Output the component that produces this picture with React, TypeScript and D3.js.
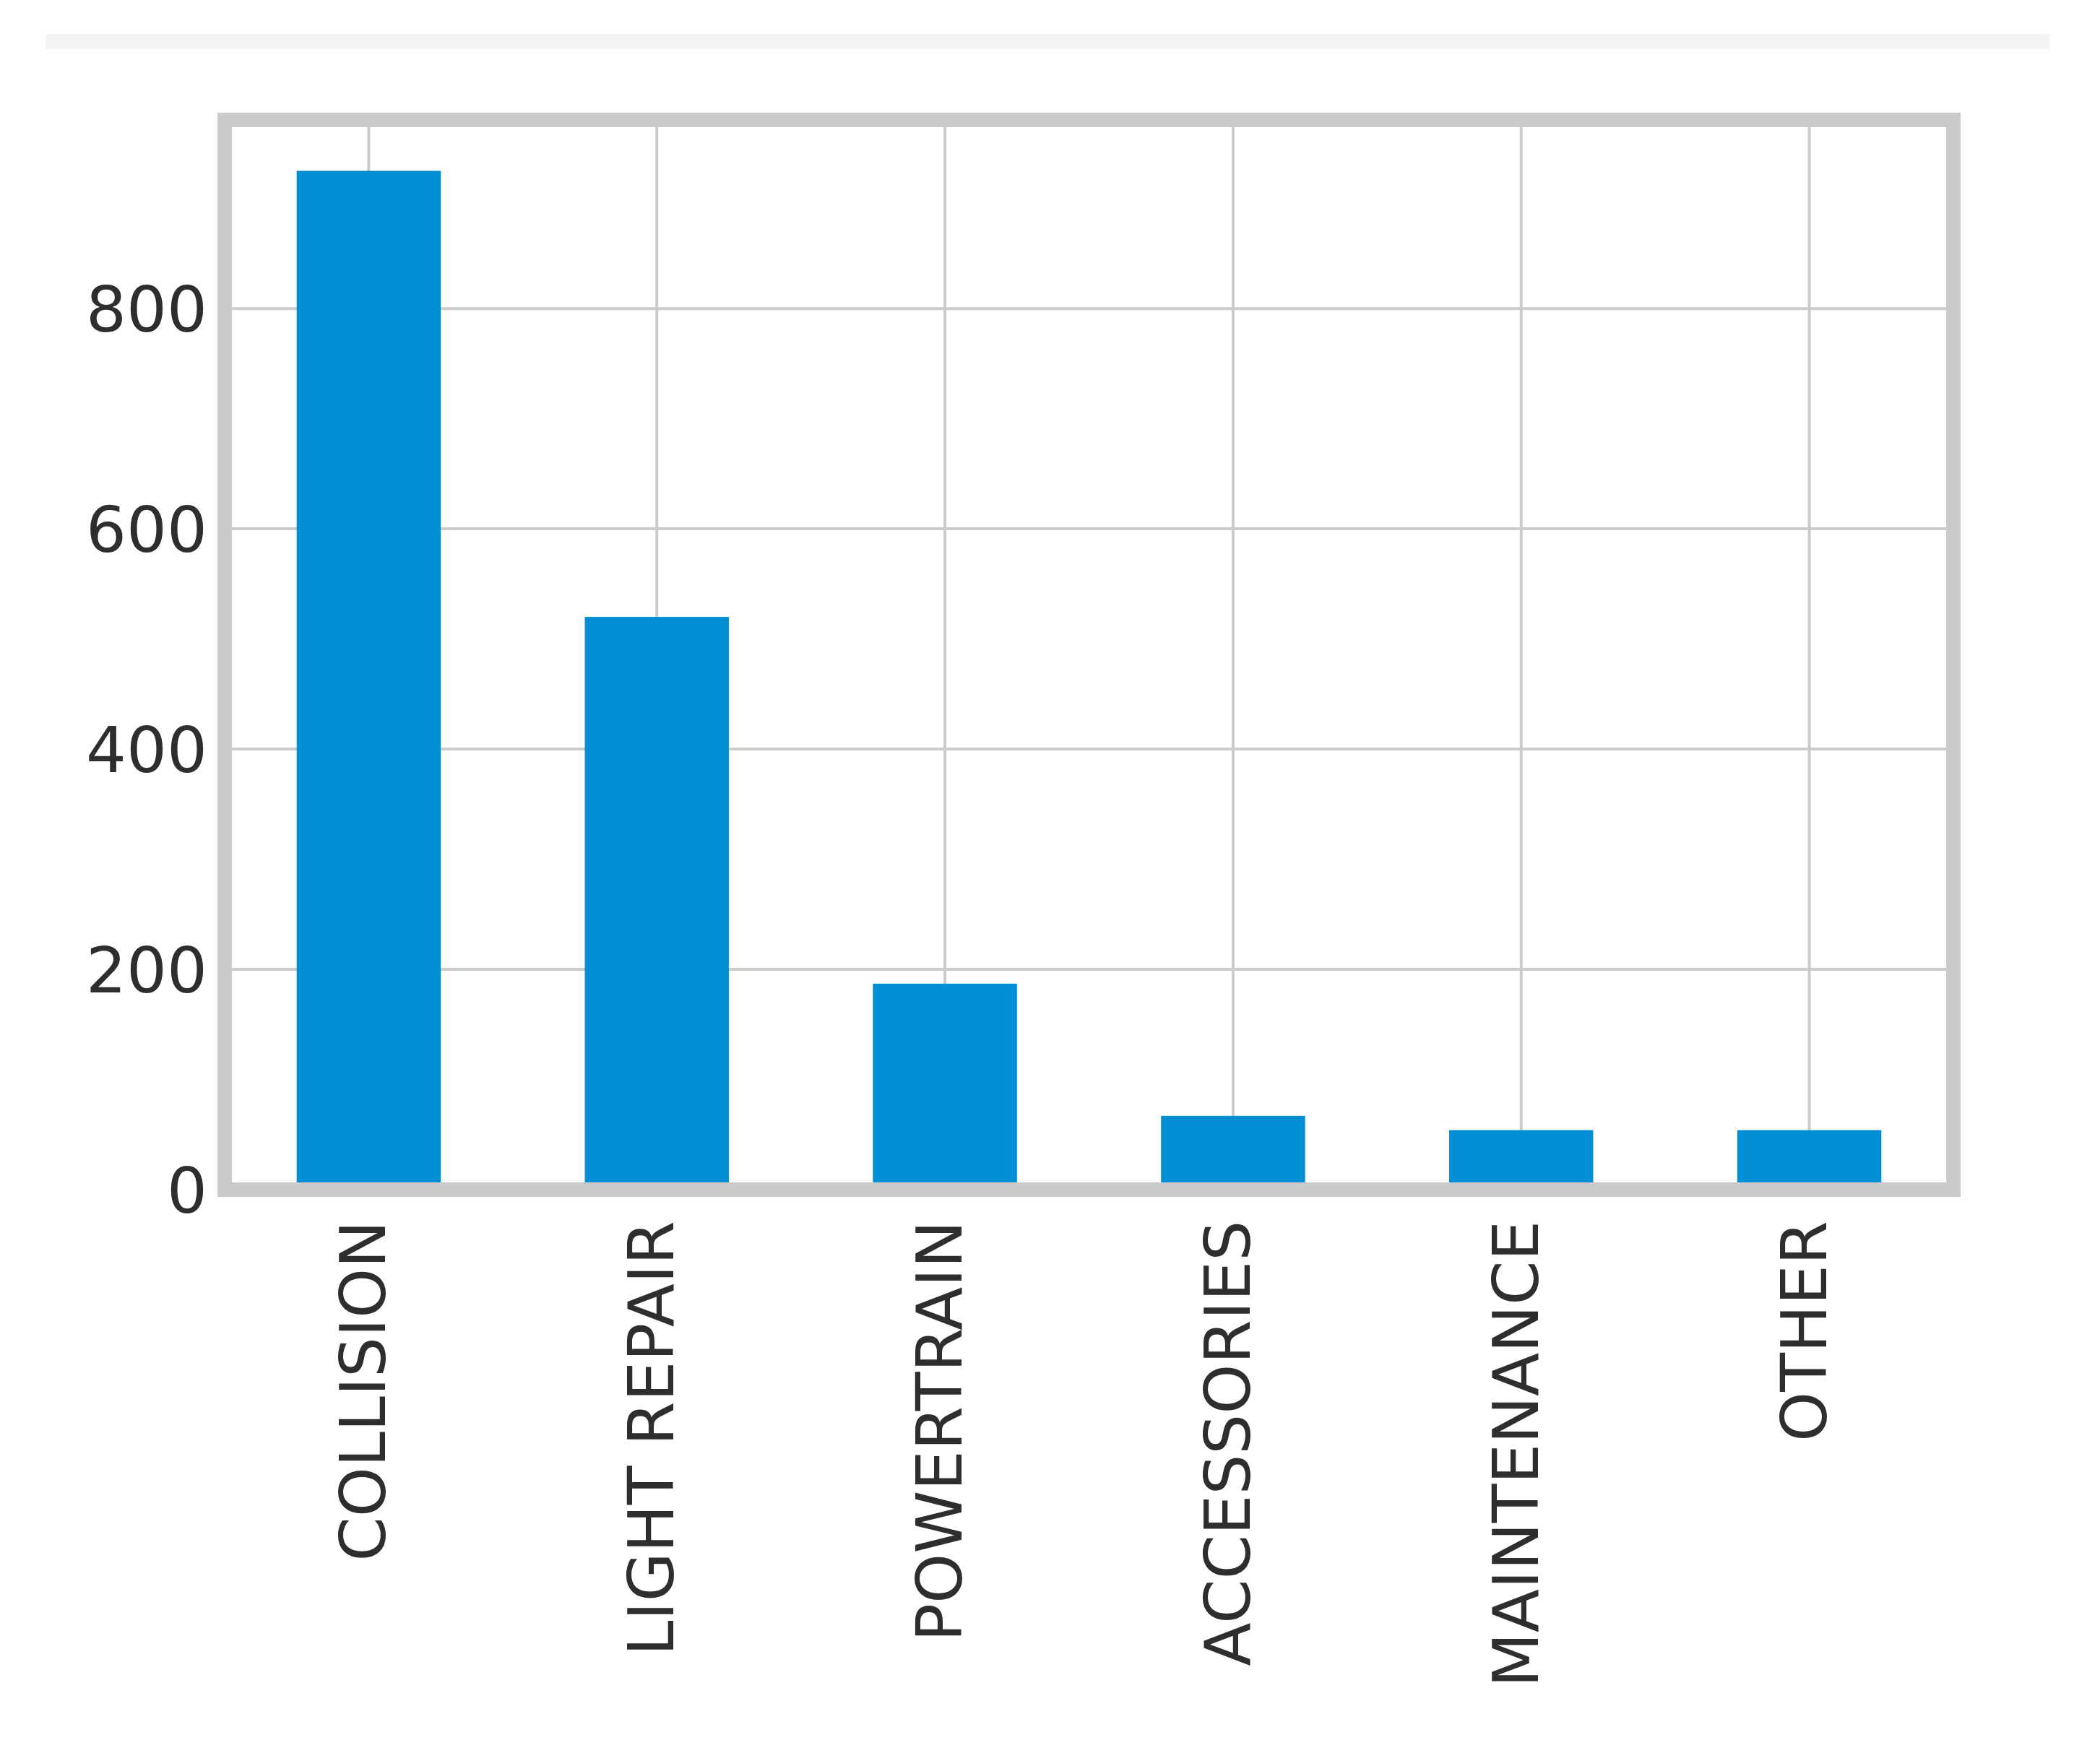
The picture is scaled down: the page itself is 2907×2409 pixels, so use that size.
import { useEffect, useRef } from 'react'
import * as d3 from 'd3'

const CHART_DIMENTIONS = ({
    width: 2907,
    height: 2409,
    left: 311,
    right: 2704,
    top: 166,
    bottom: 1647,
})

const categories = ['COLLISION', 'LIGHT REPAIR', 'POWERTRAIN', 'ACCESSORIES', 'MAINTENANCE', 'OTHER']
const counts = [925, 520, 187, 67, 54, 54]
const yTicks = [0, 200, 400, 600, 800]

export default function App(){

    const svgRef = useRef<SVGSVGElement|null>(null)

    useEffect(()=>{
        document.body.style.margin = '0'
        const svg = d3.select(svgRef.current)
            .attr('width', CHART_DIMENTIONS.width)
            .attr('height', CHART_DIMENTIONS.height)
        svg.selectAll('*').remove()

        svg.append('rect')
            .attr('width', CHART_DIMENTIONS.width)
            .attr('height', CHART_DIMENTIONS.height)
            .attr('fill', '#ffffff')

        // the grey strip from the notebook cell above the chart
        svg.append('rect')
            .attr('x', 63)
            .attr('y', 47)
            .attr('width', 2837 - 63)
            .attr('height', 21)
            .attr('fill', '#f3f3f3')

        const x = d3.scaleBand()
            .domain(categories)
            .range([CHART_DIMENTIONS.left, CHART_DIMENTIONS.right])
            .paddingInner(0.5)
            .paddingOuter(0.25)
        const yMax = d3.max(counts)! * 1.05
        const y = d3.scaleLinear()
            .domain([0, yMax])
            .range([CHART_DIMENTIONS.bottom, CHART_DIMENTIONS.top])

        const grid = svg.append('g')
        grid.selectAll('.hgrid')
            .data(yTicks)
            .enter()
            .append('line')
            .attr('x1', CHART_DIMENTIONS.left)
            .attr('x2', CHART_DIMENTIONS.right)
            .attr('y1', (d:any) => y(d))
            .attr('y2', (d:any) => y(d))
            .attr('stroke', '#cbcbcb')
            .attr('stroke-width', 4)
        grid.selectAll('.vgrid')
            .data(categories)
            .enter()
            .append('line')
            .attr('x1', (d:any) => x(d)! + x.bandwidth() / 2)
            .attr('x2', (d:any) => x(d)! + x.bandwidth() / 2)
            .attr('y1', CHART_DIMENTIONS.top)
            .attr('y2', CHART_DIMENTIONS.bottom)
            .attr('stroke', '#cbcbcb')
            .attr('stroke-width', 4)

        svg.selectAll('.bar')
            .data(counts)
            .enter()
            .append('rect')
            .attr('x', (d:any, i:any) => x(categories[i])!)
            .attr('width', x.bandwidth())
            .attr('y', (d:any) => y(d))
            .attr('height', (d:any) => y(0) - y(d))
            .attr('fill', '#008fd5')

        /* axes frame */
        svg.append('rect')
            .attr('x', CHART_DIMENTIONS.left)
            .attr('y', CHART_DIMENTIONS.top)
            .attr('width', CHART_DIMENTIONS.right - CHART_DIMENTIONS.left)
            .attr('height', CHART_DIMENTIONS.bottom - CHART_DIMENTIONS.top)
            .attr('fill', 'none')
            .attr('stroke', '#cbcbcb')
            .attr('stroke-width', 20)

        svg.selectAll('.ylab')
            .data(yTicks)
            .enter()
            .append('text')
            .attr('x', 287)
            .attr('y', (d:any) => y(d))
            .attr('dy', '0.36em')
            .attr('text-anchor', 'end')
            .attr('font-family', 'DejaVu Sans')
            .attr('font-size', '88px')
            .attr('fill', '#2e2e2e')
            .text((d:any) => d)

        svg.selectAll('.xlab')
            .data(categories)
            .enter()
            .append('text')
            .attr('transform', (d:any) => `translate(${x(d)! + x.bandwidth() / 2 + 23}, 1690) rotate(-90)`)
            .attr('text-anchor', 'end')
            .attr('font-family', 'DejaVu Sans')
            .attr('font-size', '88px')
            .attr('fill', '#2e2e2e')
            .text((d:any) => d)
    },[])

    return <svg ref={svgRef} style={{display:'block'}}></svg>
}
